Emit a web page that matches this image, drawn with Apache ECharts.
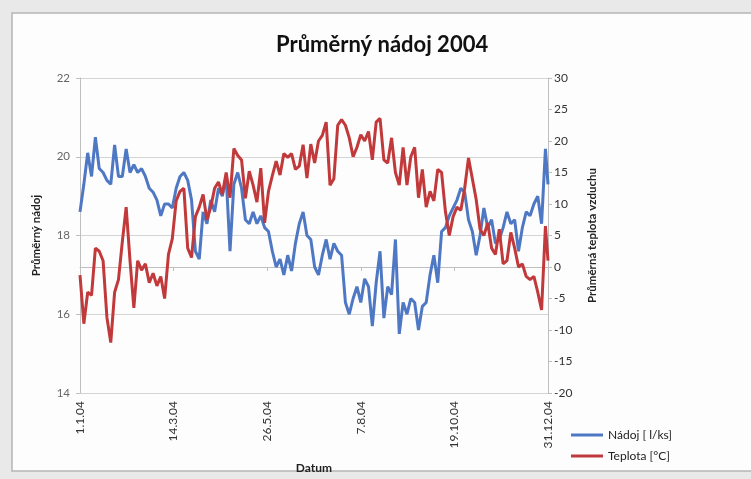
<!DOCTYPE html>
<html>
<head>
<meta charset="utf-8">
<script src="https://cdn.jsdelivr.net/npm/echarts@6/dist/echarts.min.js"></script>
<style>
html,body{margin:0;padding:0;background:#e9e9e9;}
#c{width:751px;height:479px;}
</style>
</head>
<body>
<div id="c"></div>
<script>
// Samples every 3 days from 1.1.2004 (day 0); last sample clamped to 31.12.2004 (day 365)
const DAY_STEP = 3;
const nadoj = [
  18.6,19.3,20.1,19.5,20.5,19.7,19.6,19.4,19.3,20.3,
  19.5,19.5,20.2,19.6,19.8,19.6,19.7,19.5,19.2,19.1,
  18.9,18.5,18.8,18.8,18.7,19.2,19.5,19.6,19.4,18.9,
  17.6,17.4,18.6,18.3,18.9,18.6,19.2,19.0,19.5,17.6,
  19.3,19.6,19.2,18.4,18.3,18.6,18.3,18.5,18.2,18.1,
  17.6,17.2,17.4,17.0,17.5,17.1,17.8,18.3,18.6,18.0,
  17.9,17.2,17.0,17.5,17.9,17.4,17.8,17.6,17.5,16.3,
  16.0,16.4,16.7,16.3,16.9,16.7,15.7,16.8,17.6,15.9,
  16.7,16.5,17.9,15.5,16.3,16.0,16.4,16.3,15.6,16.2,
  16.3,17.0,17.5,16.8,18.1,18.2,18.5,18.7,18.9,19.2,
  19.1,18.4,18.1,17.5,18.0,18.7,18.2,18.4,17.8,17.9,
  18.2,18.6,18.3,18.4,17.6,18.2,18.6,18.5,18.8,19.0,
  18.3,20.2,19.3
];
const teplota = [
  -1.3,-9.0,-4.0,-4.5,3.0,2.5,1.0,-8.0,-12.0,-4.0,
  -2.0,4.0,9.5,1.0,-6.5,1.0,-0.5,0.5,-2.5,-1.0,
  -3.0,-1.5,-5.0,2.0,4.5,10.5,12.0,12.5,3.0,1.5,
  8.0,9.5,11.5,7.5,9.5,12.5,13.5,11.5,15.0,11.0,
  18.8,17.7,17.0,10.9,15.2,13.0,10.3,15.7,7.0,12.0,
  14.5,16.8,14.6,18.0,17.4,18.0,15.5,16.0,19.4,14.1,
  19.5,16.5,20.0,20.9,23.0,13.0,14.0,22.5,23.4,22.5,
  20.5,17.5,19.0,21.0,20.0,21.5,17.0,23.0,23.6,17.0,
  16.5,20.5,15.0,13.0,19.0,13.0,17.5,19.0,11.0,15.5,
  9.5,12.0,10.5,15.5,15.0,8.8,5.0,8.0,9.5,9.0,
  12.5,17.3,14.0,10.7,6.0,5.0,7.0,3.0,2.0,6.0,
  0.5,1.0,5.5,3.0,0.0,0.5,-1.5,-2.0,-1.5,-4.0,
  -6.8,6.5,1.0
];
const seriesNames = ['Nádoj [ l/ks]', 'Teplota [°C]'];
const titleText = 'Průměrný nádoj 2004';
const leftAxisName = 'Průměrný nádoj';
const rightAxisName = 'Průměrná teplota vzduchu';
const xAxisName = 'Datum';
const LAST_DAY = 365;

function toPairs(arr){
  return arr.map((v,i)=>[Math.min(i*DAY_STEP, LAST_DAY), v]);
}
function dayLabel(d){
  const dt = new Date(Date.UTC(2004,0,1) + d*86400000);
  return dt.getUTCDate() + '.' + (dt.getUTCMonth()+1) + '.04';
}

const FONT = 'Lato, "Open Sans", sans-serif';
const chart = echarts.init(document.getElementById('c'), null, {renderer:'canvas'});
chart.setOption({
  backgroundColor: '#e9e9e9',
  animation: false,
  textStyle: {fontFamily: FONT},
  graphic: [{
    type: 'rect', z: -10, silent: true,
    shape: {x: 12, y: 13, width: 760, height: 458},
    style: {fill: '#fdfdfd', stroke: '#b5b5b5', lineWidth: 1.5}
  }],
  title: {
    text: titleText, left: 'center', top: 34,
    textStyle: {fontFamily: FONT, fontWeight: 'bold', fontSize: 22, color: '#111'},
    padding: 0, left: 276
  },
  legend: {
    orient: 'vertical', left: 566, top: 424, itemGap: 9,
    itemWidth: 32, itemHeight: 3, icon: 'rect',
    textStyle: {fontFamily: FONT, fontSize: 12, color: '#222'},
    data: seriesNames
  },
  grid: {left: 80, right: 203, top: 78, bottom: 85, containLabel: false},
  xAxis: {
    type: 'value', min: 0, max: LAST_DAY, interval: 73,
    name: xAxisName, nameLocation: 'middle', nameGap: 69,
    nameTextStyle: {fontFamily: FONT, fontWeight: 'bold', fontSize: 12, color: '#222'},
    axisLine: {show: true, lineStyle: {color: '#bfbfbf', width: 1}},
    axisTick: {show: true, length: 4, lineStyle: {color: '#bfbfbf'}},
    axisLabel: {rotate: 90, fontSize: 12, color: '#333', margin: 8,
      formatter: v => dayLabel(v)},
    splitLine: {show: false}
  },
  yAxis: [{
    type: 'value', min: 14, max: 22, interval: 2, position: 'left',
    name: leftAxisName, nameLocation: 'middle', nameGap: 38, nameRotate: 90,
    nameTextStyle: {fontFamily: FONT, fontWeight: 'bold', fontSize: 11.5, color: '#222'},
    axisLine: {show: true, lineStyle: {color: '#bfbfbf'}},
    axisTick: {show: true, length: 4, lineStyle: {color: '#bfbfbf'}},
    axisLabel: {fontSize: 11.5, color: '#666', margin: 10},
    splitLine: {show: true, lineStyle: {color: '#d4d4d4', width: 1}}
  }, {
    type: 'value', min: -20, max: 30, interval: 5, position: 'right',
    name: rightAxisName, nameLocation: 'middle', nameGap: 38, nameRotate: 90,
    nameTextStyle: {fontFamily: FONT, fontWeight: 'bold', fontSize: 11.5, color: '#222'},
    axisLine: {show: true, lineStyle: {color: '#bfbfbf'}},
    axisTick: {show: true, length: 4, lineStyle: {color: '#bfbfbf'}},
    axisLabel: {fontSize: 12, color: '#333', margin: 6},
    splitLine: {show: false}
  }],
  series: [{
    name: seriesNames[0], type: 'line', yAxisIndex: 0,
    data: toPairs(nadoj), showSymbol: false, symbol: 'none',
    lineStyle: {color: '#4f78c4', width: 3}, itemStyle: {color: '#4f78c4'}
  }, {
    name: seriesNames[1], type: 'line', yAxisIndex: 1,
    data: toPairs(teplota), showSymbol: false, symbol: 'none',
    lineStyle: {color: '#c1393a', width: 3}, itemStyle: {color: '#c1393a'}
  }]
});
</script>
</body>
</html>
